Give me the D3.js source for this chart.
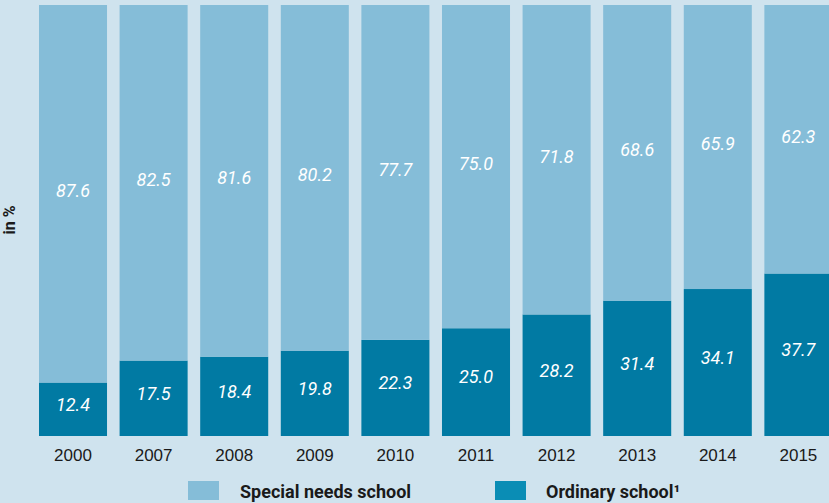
<!DOCTYPE html>
<html lang="en">
<head>
    <meta charset="UTF-8">
</head>
<style>
    body{
        margin:0;
        background:#cfe3ee;
        font-family:Roboto, "Open Sans", sans-serif;
    }
    .val{
        fill:#fff;
        font-style:italic;
        font-size:18px;
        text-anchor:middle;
    }
    .year{
        font-size:17px;
        fill:#1a1a1a;
        text-anchor:middle;
    }
    .leg{
        font-size:18px;
        font-weight:bold;
        fill:#1a1a1a;
    }
</style>
<script src="https://d3js.org/d3.v7.min.js"></script>
<body>
<svg id="chart" width="829" height="503"></svg>
<script>
    var years = ["2000", "2007", "2008", "2009", "2010", "2011", "2012", "2013", "2014", "2015"];
    var specialNeeds = [87.6, 82.5, 81.6, 80.2, 77.7, 75.0, 71.8, 68.6, 65.9, 62.3];
    var ordinary = [12.4, 17.5, 18.4, 19.8, 22.3, 25.0, 28.2, 31.4, 34.1, 37.7];
    var seriesNames = ["Special needs school", "Ordinary school\u00b9"];

    var colSpecial = "#85bdd8",
        colOrdinary = "#017aa3",
        colOrdinaryLegend = "#0a8db5";

    var svg = d3.select("#chart");

    var x = d3.scaleBand().domain(years).range([39, 832.4]).paddingInner(0.156).paddingOuter(0);
    var y = d3.scaleLinear().domain([0, 100]).range([436, 5]);

    var rows = years.map(function(yr, i) {
        return {year: yr, ord: ordinary[i], spec: specialNeeds[i]};
    });

    // ordinary school at the bottom
    svg.selectAll(".ord").data(rows).enter().append("rect")
        .attr("class", "ord")
        .attr("x", function(d) { return x(d.year); })
        .attr("width", x.bandwidth())
        .attr("y", function(d) { return y(d.ord); })
        .attr("height", function(d) { return y(0) - y(d.ord); })
        .attr("fill", colOrdinary);

    // special needs stacked on top
    svg.selectAll(".spec").data(rows).enter().append("rect")
        .attr("class", "spec")
        .attr("x", function(d) { return x(d.year); })
        .attr("width", x.bandwidth())
        .attr("y", function(d) { return y(d.ord + d.spec); })
        .attr("height", function(d) { return y(d.ord) - y(d.ord + d.spec); })
        .attr("fill", colSpecial);

    svg.selectAll(".vo").data(rows).enter().append("text")
        .attr("class", "val")
        .attr("x", function(d) { return x(d.year) + x.bandwidth() / 2; })
        .attr("y", function(d) { return (y(0) + y(d.ord)) / 2 - 5; })
        .attr("dy", "0.35em")
        .text(function(d) { return d.ord.toFixed(1); });

    svg.selectAll(".vs").data(rows).enter().append("text")
        .attr("class", "val")
        .attr("x", function(d) { return x(d.year) + x.bandwidth() / 2; })
        .attr("y", function(d) { return (y(d.ord) + y(d.ord + d.spec)) / 2 - 3; })
        .attr("dy", "0.35em")
        .text(function(d) { return d.spec.toFixed(1); });

    // x axis labels
    var xAxis = svg.append("g")
        .attr("transform", "translate(0,436)")
        .call(d3.axisBottom(x).tickSize(0).tickPadding(0));
    xAxis.select(".domain").remove();
    xAxis.selectAll("text")
        .attr("class", "year")
        .attr("y", 25)
        .attr("dy", null)
        .attr("font-family", null)
        .attr("font-size", null)
        .attr("fill", null);

    svg.append("text")
        .attr("transform", "translate(15,220) rotate(-90)")
        .attr("text-anchor", "middle")
        .attr("font-size", "16px")
        .attr("font-weight", "bold")
        .attr("fill", "#1a1a1a")
        .text("in %");

    // legend
    var legend = [
        {name: seriesNames[0], color: colSpecial, x: 188, tx: 240},
        {name: seriesNames[1], color: colOrdinaryLegend, x: 495, tx: 546}
    ];
    var lg = svg.selectAll(".lg").data(legend).enter().append("g");
    lg.append("rect")
        .attr("x", function(d) { return d.x; })
        .attr("y", 481)
        .attr("width", 31)
        .attr("height", 19)
        .attr("fill", function(d) { return d.color; });
    lg.append("text")
        .attr("class", "leg")
        .attr("x", function(d) { return d.tx; })
        .attr("y", 498)
        .text(function(d) { return d.name; });
</script>
</body>
</html>
